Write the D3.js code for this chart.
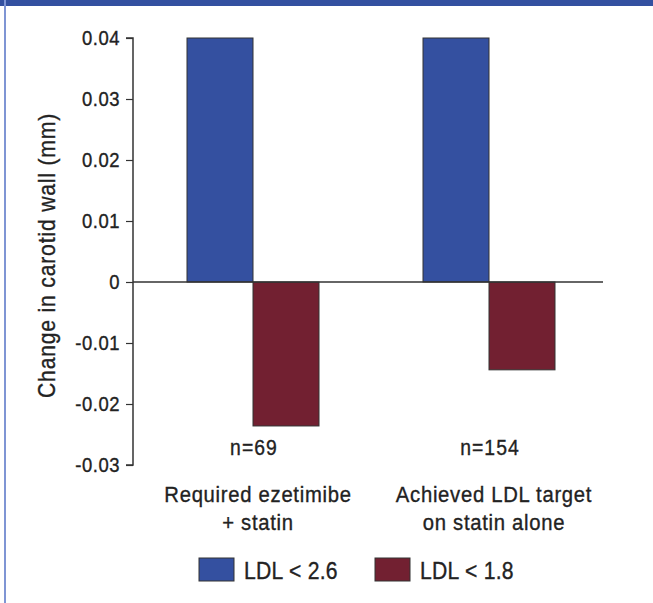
<!DOCTYPE html>
<html>
<head>
<meta charset="utf-8">
<script src="https://cdn.jsdelivr.net/npm/d3@7"></script>
<style>
  html, body { margin: 0; padding: 0; background: #fff; }
  svg { display: block; }
  text { font-family: "Liberation Sans", Arial, sans-serif; fill: #222; stroke: #222; stroke-width: 0.35px; }
</style>
</head>
<body>
<script>
// Groups, series and values
const categories = ["Required ezetimibe\n+ statin", "Achieved LDL target\non statin alone"];
const groupSizes = ["n=69", "n=154"];
const seriesNames = ["LDL < 2.6", "LDL < 1.8"];
const ldlBelow26 = [0.04, 0.04];
const ldlBelow18 = [-0.0236, -0.0144];
const yTicks = [0.04, 0.03, 0.02, 0.01, 0, -0.01, -0.02, -0.03];
const yTitle = "Change in carotid wall (mm)";
const colors = ["#3450a0", "#722031"];

const W = 653, H = 603;
const SX = 0.9; // horizontal squeeze for a condensed look (spacing restores the width)
const svg = d3.select("body").append("svg").attr("width", W).attr("height", H);

// Frame: top band and left rule
svg.append("rect").attr("x", 0).attr("y", 0).attr("width", W).attr("height", 6).attr("fill", "#3350a0");
svg.append("rect").attr("x", 4).attr("y", 0).attr("width", 2).attr("height", H).attr("fill", "#7f95d4");

const axisX = 133;
const y = d3.scaleLinear().domain([-0.03, 0.04]).range([465, 38]);
const x0 = d3.scaleBand().domain(categories).range([135, 607]);
const x1 = d3.scaleBand().domain(seriesNames).range([x0.bandwidth() / 2 - 66, x0.bandwidth() / 2 + 66]);
const groupCenter = c => x0(c) + x0.bandwidth() / 2;

const rows = categories.map((c, i) => ({
  cat: c,
  vals: [ldlBelow26[i], ldlBelow18[i]]
}));

// Bars
const g = svg.append("g");
rows.forEach((r) => {
  r.vals.forEach((v, j) => {
    g.append("rect")
      .attr("x", x0(r.cat) + x1(seriesNames[j]))
      .attr("y", y(Math.max(0, v)))
      .attr("width", x1.bandwidth())
      .attr("height", Math.abs(y(v) - y(0)))
      .attr("fill", colors[j])
      .attr("stroke", "#333")
      .attr("stroke-width", 1);
  });
});

// Zero line
svg.append("line")
  .attr("x1", axisX).attr("x2", 603)
  .attr("y1", y(0)).attr("y2", y(0))
  .attr("stroke", "#333").attr("stroke-width", 1.5);

// Y axis (plain hyphen for negatives)
const fmt = d => d === 0 ? "0" : (d < 0 ? "-" : "") + Math.abs(d).toFixed(2);
const yAxis = d3.axisLeft(y).tickValues(yTicks).tickSize(7).tickPadding(6).tickFormat(fmt);
const ya = svg.append("g").attr("transform", `translate(${axisX},0)`).call(yAxis);
ya.attr("font-family", null).attr("font-size", null);
ya.select(".domain").attr("stroke", "#333").attr("stroke-width", 1.5).attr("d", `M-7,${y(0.04)}H0V${y(-0.03)}H-7`);
ya.selectAll(".tick line").attr("stroke", "#333").attr("stroke-width", 1.2);
ya.selectAll(".tick text")
  .attr("font-size", 20.5)
  .attr("fill", "#222")
  .attr("letter-spacing", 0.6)
  .attr("x", -13 / SX)
  .attr("transform", `scale(${SX},1)`);

// Text helper: squeezed horizontally around its anchor
function label(x, yy, str, size, anchor, spacing) {
  return svg.append("text")
    .attr("transform", `translate(${x},${yy}) scale(${SX},1)`)
    .attr("text-anchor", anchor || "middle")
    .attr("font-size", size)
    .attr("letter-spacing", spacing || 0)
    .text(str);
}

// Y title
svg.append("text")
  .attr("transform", `translate(55,${(y(0.04) + y(-0.03)) / 2 + 4}) rotate(-90) scale(${SX},1)`)
  .attr("text-anchor", "middle")
  .attr("font-size", 23.5)
  .attr("letter-spacing", 0.9)
  .text(yTitle);

// Group size labels
categories.forEach((c, i) => label(groupCenter(c) + 1, 455, groupSizes[i], 21.5, "middle", 1.2));

// Category labels
categories.forEach((c) => {
  const cx = groupCenter(c) + 5;
  c.split("\n").forEach((line, k) => label(cx, 502 + k * 28, line, 22.5, "middle", 0.8));
});

// Legend
const legendX = [199, 375];
seriesNames.forEach((s, j) => {
  svg.append("rect")
    .attr("x", legendX[j]).attr("y", 558)
    .attr("width", 35).attr("height", 23)
    .attr("fill", colors[j]).attr("stroke", "#333").attr("stroke-width", 1);
  label(legendX[j] + 45, 579, s, 23.5, "start", 0.3);
});
</script>
</body>
</html>
